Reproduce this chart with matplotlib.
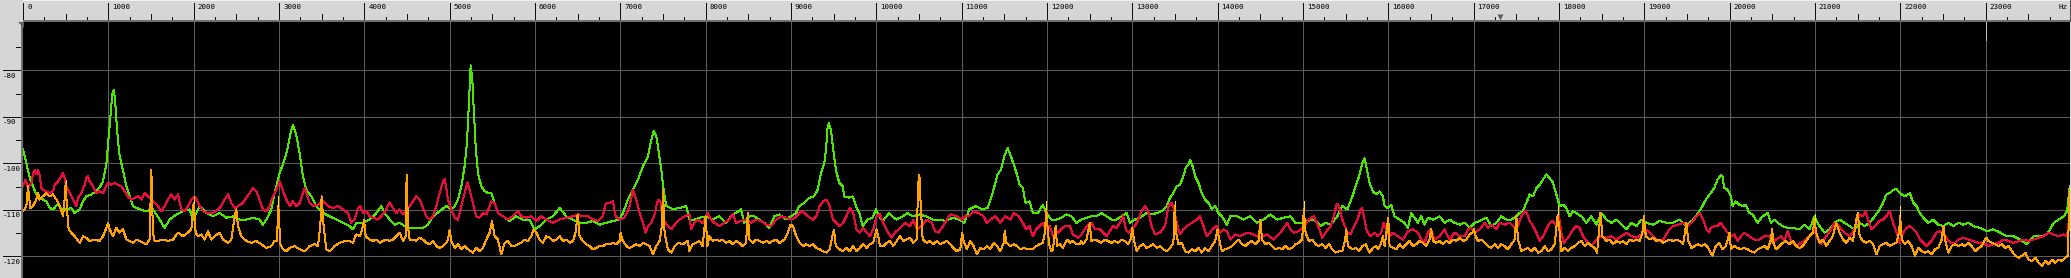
import matplotlib
matplotlib.use("Agg")
import matplotlib.pyplot as plt
import matplotlib.transforms as mtransforms

# --- data (Hz, dB) ---
green_hz = [0, 30, 60, 90, 117, 156, 200, 273, 312, 352, 410, 469, 508, 566, 605, 664, 703, 742, 801, 859,
            898, 937, 977, 1000, 1016, 1047, 1062, 1078, 1094, 1113, 1133, 1172, 1211, 1250, 1289, 1367, 1445,
            1523, 1602, 1660, 1719, 1797, 1875, 1953, 1992, 2070, 2148, 2227, 2305, 2383, 2461, 2539, 2617,
            2695, 2773, 2812, 2852, 2910, 2949, 3008, 3066, 3105, 3144, 3164, 3203, 3242, 3281, 3320, 3379,
            3437, 3516, 3594, 3672, 3750, 3828, 3867, 3906, 3984, 4062, 4141, 4199, 4238, 4297, 4355, 4414,
            4473, 4531, 4609, 4687, 4746, 4805, 4883, 4961, 5020, 5059, 5098, 5137, 5176, 5203, 5226, 5246,
            5266, 5281, 5305, 5332, 5371, 5410, 5449, 5488, 5527, 5566, 5625, 5703, 5781, 5859, 5937, 5996,
            6055, 6133, 6211, 6289, 6367, 6445, 6523, 6601, 6680, 6758, 6836, 6914, 6992, 7031, 7090, 7148,
            7207, 7266, 7324, 7363, 7391, 7422, 7453, 7480, 7508, 7539, 7617, 7695, 7773, 7809, 7867, 7926,
            8004, 8082, 8160, 8238, 8316, 8355, 8414, 8453, 8512, 8570, 8629, 8687, 8746, 8805, 8863, 8941,
            9000, 9059, 9098, 9156, 9215, 9273, 9312, 9352, 9391, 9410, 9430, 9445, 9469, 9496, 9527, 9566,
            9605, 9625, 9684, 9723, 9762, 9801, 9840, 9898, 9957, 9996, 10035, 10074, 10152, 10230, 10309,
            10367, 10426, 10504, 10582, 10660, 10738, 10816, 10894, 10973, 11031, 11090, 11168, 11246, 11305,
            11363, 11422, 11461, 11500, 11539, 11578, 11617, 11656, 11679, 11718, 11749, 11796, 11835, 11894,
            11953, 11992, 12051, 12110, 12169, 12227, 12286, 12345, 12404, 12463, 12521, 12580, 12639, 12698,
            12757, 12815, 12874, 12933, 12972, 13031, 13090, 13168, 13227, 13286, 13345, 13403, 13443, 13482,
            13521, 13560, 13599, 13631, 13658, 13678, 13709, 13737, 13776, 13815, 13854, 13894, 13933, 13972,
            14011, 14050, 14109, 14148, 14227, 14305, 14384, 14462, 14541, 14619, 14698, 14776, 14854, 14913,
            14992, 15050, 15129, 15207, 15266, 15325, 15403, 15462, 15521, 15580, 15619, 15658, 15698, 15722,
            15742, 15781, 15820, 15859, 15898, 15937, 15957, 15996, 16035, 16074, 16133, 16192, 16231, 16270,
            16309, 16348, 16387, 16426, 16465, 16524, 16602, 16661, 16719, 16778, 16837, 16895, 16954, 17013,
            17071, 17149, 17208, 17267, 17325, 17384, 17443, 17501, 17540, 17579, 17619, 17658, 17697, 17736,
            17775, 17814, 17853, 17892, 17931, 17970, 18009, 18048, 18087, 18126, 18165, 18204, 18263, 18322,
            18380, 18439, 18498, 18557, 18615, 18674, 18752, 18791, 18850, 18908, 18967, 19026, 19104, 19183,
            19261, 19339, 19417, 19495, 19574, 19632, 19682, 19722, 19780, 19820, 19859, 19898, 19918, 19937,
            19976, 20016, 20035, 20074, 20114, 20153, 20192, 20231, 20270, 20329, 20388, 20447, 20486, 20525,
            20564, 20623, 20682, 20741, 20819, 20878, 20937, 20996, 21054, 21113, 21172, 21231, 21290, 21348,
            21407, 21466, 21525, 21584, 21642, 21701, 21760, 21799, 21838, 21878, 21917, 21956, 21995, 22054,
            22113, 22152, 22192, 22231, 22270, 22329, 22388, 22446, 22505, 22564, 22623, 22682, 22740, 22799,
            22858, 22936, 23015, 23093, 23172, 23250, 23329, 23407, 23486, 23564, 23642, 23721, 23799, 23858,
            23917, 23956, 23987]
green_db = [-97.0, -99.2, -101.7, -103.8, -104.9, -106.7, -107.4, -108.2, -109.6, -109.9, -108.8, -110.3, -109.9,
            -109.6, -110.7, -109.9, -108.2, -107.1, -106.7, -106.0, -105.2, -103.9, -100.2, -95.0, -91.9, -85.0,
            -84.2, -86.0, -90.5, -95.0, -98.5, -101.5, -104.9, -107.1, -109.2, -109.9, -110.3, -109.9, -112.1,
            -113.9, -112.1, -111.0, -110.3, -109.9, -112.1, -109.2, -110.7, -111.4, -110.7, -111.7, -111.4,
            -112.1, -112.1, -111.7, -112.1, -113.2, -112.1, -109.9, -106.4, -102.1, -99.2, -96.4, -92.8, -91.7,
            -94.0, -97.8, -102.8, -105.7, -107.1, -109.2, -110.7, -111.4, -112.1, -112.8, -113.5, -114.2,
            -112.8, -112.8, -112.1, -110.7, -109.2, -110.7, -112.1, -113.2, -112.8, -113.5, -113.9, -113.9,
            -113.9, -113.2, -111.4, -110.3, -109.2, -109.9, -109.2, -107.8, -104.9, -100.6, -95.6, -87.1, -78.9,
            -82.1, -87.8, -96.4, -102.1, -104.9, -106.0, -106.4, -106.4, -108.5, -110.7, -111.4, -112.4, -111.4,
            -112.1, -112.1, -114.2, -113.5, -112.1, -111.4, -109.6, -111.4, -112.1, -112.8, -112.8, -112.4,
            -113.2, -112.8, -112.4, -112.1, -110.7, -107.8, -105.7, -103.5, -100.6, -98.5, -95.0, -93.0, -94.2,
            -97.8, -101.4, -105.7, -109.2, -109.9, -109.6, -109.2, -112.1, -112.1, -111.7, -111.4, -112.1,
            -111.4, -112.8, -111.0, -110.7, -109.9, -112.8, -111.4, -111.4, -112.1, -112.8, -113.9, -111.4,
            -111.0, -112.1, -111.4, -110.7, -109.2, -108.5, -107.4, -107.1, -105.7, -102.1, -99.9, -97.1, -92.1,
            -91.4, -92.8, -97.1, -101.4, -104.2, -104.9, -107.1, -107.4, -107.1, -109.2, -110.7, -113.5, -112.1,
            -111.7, -109.9, -111.4, -112.4, -110.7, -112.1, -111.4, -110.7, -111.4, -111.0, -111.4, -112.1,
            -112.1, -112.4, -111.7, -112.1, -112.8, -109.9, -109.2, -109.9, -109.6, -106.4, -102.4, -101.4,
            -98.5, -96.7, -98.5, -100.6, -102.8, -104.6, -105.3, -108.5, -108.2, -110.7, -110.7, -108.9, -110.7,
            -112.1, -112.1, -111.7, -111.0, -111.4, -112.8, -112.1, -111.7, -111.4, -111.4, -110.7, -111.4,
            -112.1, -112.1, -111.4, -110.7, -112.8, -112.1, -111.7, -110.7, -111.0, -110.7, -110.3, -109.2,
            -107.4, -106.4, -104.9, -104.6, -102.8, -100.7, -100.3, -99.2, -100.7, -102.8, -104.2, -106.4,
            -107.8, -108.5, -109.9, -109.2, -110.7, -111.4, -113.2, -111.4, -111.4, -112.1, -111.4, -112.8,
            -112.1, -111.0, -112.1, -111.7, -111.4, -112.8, -112.8, -112.4, -112.1, -113.5, -112.8, -113.2,
            -111.4, -109.2, -109.9, -107.1, -104.9, -102.8, -99.9, -98.9, -100.6, -104.2, -106.0, -106.7,
            -106.0, -107.1, -109.2, -109.6, -108.9, -111.4, -112.1, -112.8, -113.9, -110.7, -111.7, -112.8,
            -111.4, -113.2, -111.7, -112.1, -111.4, -112.8, -112.1, -112.8, -113.2, -112.8, -113.9, -112.8,
            -112.4, -111.7, -113.5, -112.8, -111.4, -112.1, -112.1, -111.4, -110.7, -110.3, -108.5, -106.7,
            -107.1, -105.3, -104.6, -103.5, -102.4, -103.2, -104.2, -106.7, -109.2, -108.9, -109.6, -111.4,
            -110.3, -110.7, -111.4, -112.8, -111.4, -113.2, -110.7, -112.1, -112.8, -112.1, -113.5, -114.2,
            -112.8, -113.5, -112.1, -112.8, -113.2, -112.4, -112.8, -112.8, -112.1, -113.5, -112.1, -110.7,
            -109.2, -107.8, -106.4, -105.3, -103.5, -102.6, -102.8, -105.3, -105.7, -107.1, -109.2, -108.2,
            -108.9, -109.2, -108.9, -110.7, -111.0, -112.8, -111.4, -110.7, -112.8, -112.1, -112.8, -113.5,
            -113.9, -113.9, -114.2, -113.2, -114.2, -111.4, -113.5, -114.9, -114.2, -112.8, -112.1, -112.8,
            -113.5, -114.2, -112.8, -113.5, -112.8, -111.4, -109.9, -108.5, -106.7, -106.4, -105.7, -105.5,
            -106.4, -107.1, -106.4, -108.5, -109.2, -110.7, -111.7, -112.8, -112.1, -113.2, -113.5, -112.8,
            -113.5, -112.8, -113.2, -112.8, -113.5, -113.9, -114.6, -114.2, -114.9, -115.7, -115.7, -116.4,
            -117.4, -115.7, -115.7, -115.3, -112.8, -112.1, -111.4, -110.3, -104.9]

red_hz = [0, 31, 59, 98, 117, 137, 156, 176, 195, 215, 234, 273, 312, 352, 371, 410, 449, 469, 488, 508, 547,
          586, 625, 645, 684, 723, 742, 762, 781, 820, 859, 898, 937, 977, 996, 1035, 1074, 1113, 1152, 1191,
          1230, 1270, 1309, 1348, 1387, 1426, 1465, 1504, 1543, 1582, 1621, 1660, 1699, 1738, 1777, 1816, 1855,
          1894, 1934, 1973, 2012, 2051, 2109, 2168, 2227, 2285, 2324, 2363, 2402, 2441, 2480, 2519, 2578, 2617,
          2656, 2695, 2734, 2773, 2812, 2852, 2891, 2930, 2969, 3008, 3047, 3086, 3125, 3164, 3203, 3242, 3281,
          3301, 3320, 3359, 3398, 3457, 3516, 3574, 3633, 3691, 3750, 3809, 3848, 3887, 3926, 3953, 3984, 4023,
          4062, 4102, 4160, 4199, 4258, 4297, 4336, 4375, 4414, 4453, 4492, 4531, 4570, 4609, 4648, 4687, 4726,
          4766, 4805, 4844, 4883, 4922, 4941, 4961, 4980, 5020, 5059, 5098, 5137, 5176, 5207, 5234, 5273, 5312,
          5351, 5390, 5430, 5469, 5488, 5527, 5566, 5625, 5683, 5742, 5801, 5840, 5898, 5957, 6015, 6074, 6133,
          6211, 6289, 6367, 6445, 6504, 6562, 6621, 6680, 6738, 6797, 6828, 6875, 6914, 6945, 6992, 7051, 7109,
          7148, 7187, 7226, 7266, 7297, 7324, 7363, 7402, 7441, 7469, 7500, 7558, 7597, 7637, 7695, 7754, 7812,
          7828, 7867, 7906, 7965, 8024, 8063, 8102, 8161, 8220, 8278, 8318, 8357, 8416, 8474, 8533, 8592, 8651,
          8710, 8768, 8827, 8886, 8945, 9004, 9043, 9082, 9121, 9160, 9200, 9258, 9298, 9337, 9376, 9415, 9454,
          9494, 9533, 9572, 9611, 9650, 9690, 9729, 9768, 9807, 9846, 9886, 9925, 9964, 10003, 10042, 10082,
          10140, 10180, 10219, 10278, 10336, 10395, 10434, 10474, 10532, 10591, 10650, 10689, 10728, 10768,
          10807, 10846, 10885, 10944, 11003, 11042, 11081, 11140, 11199, 11258, 11297, 11336, 11395, 11454,
          11512, 11571, 11610, 11669, 11718, 11757, 11796, 11835, 11875, 11914, 11953, 11992, 12031, 12071,
          12129, 12169, 12208, 12267, 12306, 12365, 12404, 12443, 12482, 12521, 12561, 12619, 12658, 12698,
          12737, 12776, 12815, 12855, 12894, 12925, 12953, 12992, 13031, 13070, 13109, 13149, 13188, 13227,
          13266, 13325, 13384, 13423, 13462, 13490, 13521, 13560, 13599, 13639, 13697, 13756, 13795, 13835,
          13874, 13913, 13952, 13991, 14031, 14070, 14109, 14148, 14207, 14266, 14344, 14423, 14501, 14580,
          14658, 14736, 14775, 14815, 14854, 14893, 14952, 15011, 15070, 15128, 15187, 15226, 15266, 15324,
          15364, 15395, 15422, 15462, 15520, 15560, 15599, 15638, 15677, 15695, 15722, 15750, 15789, 15840,
          15879, 15918, 15945, 15977, 16016, 16055, 16113, 16172, 16231, 16289, 16348, 16387, 16426, 16465,
          16504, 16543, 16602, 16661, 16719, 16778, 16837, 16895, 16934, 16973, 17013, 17071, 17130, 17169,
          17208, 17267, 17306, 17365, 17423, 17482, 17521, 17560, 17599, 17627, 17658, 17697, 17736, 17775,
          17814, 17853, 17892, 17931, 17970, 18002, 18029, 18057, 18107, 18166, 18205, 18244, 18283, 18323,
          18381, 18440, 18498, 18557, 18616, 18674, 18733, 18792, 18850, 18909, 18968, 19007, 19046, 19104,
          19163, 19222, 19280, 19339, 19398, 19456, 19515, 19574, 19613, 19652, 19691, 19730, 19761, 19780,
          19820, 19859, 19898, 19937, 19976, 20016, 20055, 20094, 20133, 20172, 20231, 20290, 20349, 20408,
          20466, 20506, 20545, 20604, 20643, 20682, 20721, 20780, 20839, 20898, 20956, 20996, 21035, 21074,
          21133, 21192, 21231, 21270, 21309, 21348, 21407, 21446, 21486, 21525, 21564, 21595, 21623, 21662,
          21701, 21760, 21799, 21838, 21878, 21917, 21956, 21995, 22035, 22074, 22113, 22152, 22192, 22231,
          22270, 22309, 22368, 22427, 22466, 22505, 22564, 22623, 22682, 22741, 22799, 22858, 22917, 22976,
          23035, 23093, 23152, 23211, 23270, 23329, 23388, 23446, 23505, 23564, 23623, 23682, 23740, 23799,
          23858, 23917, 23956, 23987]
red_db = [-104.9, -103.5, -105.3, -104.2, -102.4, -101.4, -102.4, -101.4, -102.4, -105.3, -105.7, -106.0, -106.4,
          -106.0, -104.6, -103.9, -102.8, -102.1, -103.2, -104.9, -106.4, -107.8, -109.2, -107.4, -106.4, -104.6,
          -103.2, -102.8, -103.9, -104.9, -106.4, -106.0, -106.4, -104.9, -104.2, -104.6, -104.2, -104.6, -104.9,
          -106.0, -107.1, -107.8, -107.4, -107.1, -107.8, -106.4, -107.1, -107.8, -108.5, -109.2, -110.3, -109.2,
          -107.8, -106.7, -107.8, -106.7, -109.9, -110.3, -109.2, -107.8, -107.1, -108.5, -110.3, -110.7, -110.7,
          -109.9, -109.2, -107.8, -106.7, -108.5, -109.6, -109.2, -108.5, -107.4, -106.4, -105.3, -106.0, -107.8,
          -109.9, -110.3, -109.2, -107.1, -105.7, -103.9, -106.0, -107.8, -109.2, -108.2, -109.2, -108.5, -106.4,
          -105.3, -106.4, -108.5, -109.2, -108.9, -108.2, -109.2, -109.6, -109.2, -109.9, -110.7, -112.8, -112.1,
          -109.6, -109.2, -110.7, -110.3, -111.4, -111.7, -112.1, -111.4, -109.9, -108.4, -109.6, -110.7, -109.9,
          -111.0, -110.3, -109.2, -108.2, -107.1, -107.8, -109.6, -111.4, -112.1, -111.4, -109.2, -106.4, -103.9,
          -103.4, -105.3, -107.8, -109.9, -111.7, -112.1, -109.2, -106.4, -104.1, -105.7, -108.5, -111.4, -111.7,
          -110.7, -111.0, -109.2, -108.2, -108.5, -110.7, -111.4, -112.1, -111.4, -110.3, -111.4, -111.7, -111.4,
          -112.4, -111.4, -112.1, -112.8, -112.1, -111.7, -111.4, -111.0, -111.4, -111.4, -112.1, -112.4, -111.4,
          -108.7, -108.5, -108.2, -111.4, -112.1, -111.7, -109.2, -105.7, -107.8, -110.7, -112.8, -114.9, -113.5,
          -112.8, -111.0, -107.8, -108.2, -112.1, -113.5, -114.2, -113.2, -112.1, -111.4, -111.0, -114.2, -112.8,
          -112.1, -112.8, -110.7, -112.1, -112.8, -113.5, -112.8, -112.1, -110.9, -112.8, -112.4, -112.1, -112.8,
          -112.1, -112.4, -113.2, -113.5, -112.1, -111.4, -111.7, -112.1, -111.7, -111.0, -110.3, -110.7, -111.4,
          -112.1, -111.4, -109.2, -108.2, -107.8, -109.2, -112.1, -112.8, -113.5, -112.8, -111.4, -109.6, -110.7,
          -114.2, -114.9, -113.9, -114.9, -115.7, -114.2, -111.4, -111.0, -112.8, -114.9, -116.0, -114.9, -113.9,
          -112.8, -113.5, -112.1, -114.2, -113.5, -112.1, -112.8, -114.6, -114.9, -113.9, -112.8, -111.4, -111.0,
          -111.4, -112.1, -111.4, -111.4, -110.3, -110.7, -111.4, -112.8, -112.1, -111.4, -112.8, -111.4, -112.1,
          -110.7, -111.4, -112.8, -114.2, -113.5, -115.7, -114.2, -113.5, -112.8, -114.2, -113.5, -115.7, -114.9,
          -114.2, -113.5, -113.5, -115.3, -116.0, -115.3, -114.2, -113.2, -112.8, -114.2, -114.2, -114.9, -115.7,
          -114.6, -113.5, -113.9, -112.8, -111.4, -114.2, -114.9, -114.2, -113.5, -112.1, -110.3, -109.2, -110.3,
          -113.5, -115.3, -114.9, -113.5, -109.2, -108.5, -109.9, -112.8, -115.3, -114.2, -113.5, -112.8, -112.1,
          -111.4, -113.5, -115.7, -114.9, -113.9, -113.5, -114.9, -114.2, -114.6, -116.4, -115.3, -115.7, -114.9,
          -115.3, -116.0, -115.3, -116.4, -114.9, -113.9, -112.8, -114.2, -114.9, -114.6, -113.5, -112.1, -111.4,
          -113.9, -116.0, -114.9, -113.5, -111.4, -108.7, -109.2, -112.1, -114.9, -115.3, -113.5, -112.1, -109.9,
          -109.6, -112.1, -114.6, -115.7, -114.9, -115.7, -114.9, -112.8, -114.2, -115.7, -114.9, -115.7, -116.4,
          -114.6, -114.2, -114.9, -116.4, -117.1, -114.9, -114.2, -116.4, -115.7, -114.2, -116.4, -114.9, -115.7,
          -115.7, -114.2, -113.9, -114.9, -114.2, -112.8, -113.9, -113.2, -114.2, -112.8, -113.2, -112.8, -113.9,
          -113.5, -111.4, -110.3, -110.7, -112.4, -113.5, -114.9, -116.7, -115.7, -114.2, -112.8, -112.4, -113.5,
          -111.4, -114.9, -117.1, -116.0, -114.2, -113.5, -113.9, -115.7, -116.7, -117.8, -116.4, -115.7, -116.0,
          -115.7, -116.4, -115.7, -114.9, -115.7, -116.0, -115.3, -114.2, -114.6, -115.7, -116.7, -116.4, -114.6,
          -113.5, -113.2, -112.8, -113.5, -112.4, -111.4, -110.7, -112.1, -114.2, -114.9, -113.9, -113.5, -113.5,
          -112.8, -113.9, -114.9, -115.7, -115.3, -116.7, -115.7, -114.9, -115.7, -116.4, -116.4, -115.7, -115.7,
          -117.1, -116.4, -115.7, -116.7, -114.6, -116.7, -117.8, -117.1, -116.4, -115.3, -114.2, -116.4, -117.4,
          -115.7, -114.2, -112.8, -113.2, -114.2, -114.9, -115.7, -114.9, -112.8, -111.0, -111.4, -110.3, -112.1,
          -114.2, -113.5, -112.4, -112.1, -111.4, -110.3, -112.8, -114.9, -117.1, -114.9, -113.9, -113.5, -114.2,
          -114.9, -116.4, -117.1, -117.8, -116.7, -114.9, -114.6, -114.9, -116.7, -117.4, -116.4, -116.0, -116.4,
          -116.7, -117.1, -117.1, -117.8, -117.4, -117.1, -116.4, -116.7, -117.1, -116.7, -116.4, -116.7, -116.4,
          -116.0, -115.7, -114.9, -115.3, -115.7, -115.3, -115.7, -110.7]

orange_hz = [0, 20, 39, 59, 70, 86, 117, 156, 176, 195, 234, 273, 312, 352, 391, 430, 469, 488, 500, 516, 535,
             566, 605, 664, 703, 742, 781, 840, 898, 937, 977, 996, 1016, 1055, 1094, 1133, 1172, 1211, 1250,
             1289, 1328, 1367, 1406, 1445, 1484, 1504, 1523, 1543, 1582, 1641, 1699, 1758, 1816, 1875, 1934,
             1973, 2000, 2023, 2051, 2090, 2129, 2168, 2207, 2246, 2305, 2344, 2402, 2441, 2480, 2500, 2519,
             2558, 2617, 2676, 2734, 2793, 2852, 2910, 2949, 2976, 2992, 3016, 3047, 3086, 3125, 3183, 3242,
             3301, 3359, 3418, 3457, 3484, 3500, 3523, 3555, 3594, 3652, 3711, 3769, 3828, 3867, 3887, 3906,
             3945, 3965, 3984, 3996, 4016, 4062, 4102, 4141, 4180, 4219, 4258, 4297, 4336, 4375, 4414, 4453,
             4484, 4496, 4512, 4531, 4570, 4609, 4648, 4687, 4726, 4766, 4805, 4844, 4883, 4922, 4961, 4980,
             5000, 5020, 5059, 5098, 5137, 5176, 5215, 5273, 5312, 5351, 5390, 5430, 5469, 5496, 5527, 5566,
             5605, 5644, 5683, 5723, 5762, 5801, 5840, 5879, 5918, 5957, 5984, 6016, 6055, 6094, 6133, 6172,
             6211, 6250, 6289, 6328, 6367, 6406, 6445, 6476, 6500, 6523, 6562, 6601, 6641, 6680, 6719, 6758,
             6797, 6836, 6875, 6914, 6953, 6992, 7004, 7023, 7070, 7109, 7148, 7187, 7226, 7266, 7305, 7344,
             7383, 7422, 7461, 7488, 7500, 7519, 7558, 7597, 7637, 7676, 7734, 7793, 7808, 7847, 7886, 7926,
             7965, 7988, 8000, 8020, 8043, 8082, 8122, 8161, 8200, 8239, 8278, 8318, 8357, 8396, 8435, 8474,
             8494, 8514, 8553, 8592, 8631, 8670, 8710, 8749, 8788, 8827, 8866, 8925, 8964, 8996, 9023, 9062,
             9102, 9141, 9180, 9219, 9258, 9298, 9337, 9376, 9415, 9454, 9494, 9505, 9525, 9572, 9611, 9650,
             9690, 9729, 9768, 9807, 9846, 9886, 9925, 9964, 10003, 10023, 10042, 10082, 10121, 10160, 10200,
             10239, 10278, 10317, 10356, 10396, 10435, 10474, 10490, 10505, 10521, 10544, 10591, 10630, 10670,
             10709, 10748, 10787, 10826, 10866, 10905, 10944, 10984, 11007, 11023, 11062, 11101, 11140, 11180,
             11219, 11258, 11297, 11336, 11376, 11415, 11454, 11493, 11505, 11524, 11572, 11611, 11650, 11690,
             11729, 11787, 11835, 11875, 11914, 11953, 11976, 11992, 12012, 12031, 12051, 12071, 12090, 12102,
             12118, 12149, 12188, 12227, 12247, 12267, 12306, 12345, 12384, 12404, 12423, 12463, 12502, 12521,
             12561, 12600, 12639, 12678, 12717, 12757, 12796, 12835, 12874, 12913, 12953, 12980, 13000, 13019,
             13051, 13090, 13129, 13168, 13207, 13247, 13286, 13325, 13364, 13403, 13443, 13482, 13498, 13513,
             13541, 13580, 13619, 13658, 13697, 13737, 13776, 13815, 13854, 13894, 13933, 13972, 13999, 14023,
             14050, 14089, 14129, 14168, 14207, 14246, 14286, 14325, 14364, 14403, 14442, 14482, 14501, 14521,
             14560, 14599, 14638, 14678, 14717, 14756, 14795, 14834, 14874, 14913, 14952, 14991, 15011, 15031,
             15070, 15109, 15148, 15187, 15226, 15266, 15305, 15344, 15383, 15423, 15462, 15493, 15509, 15528,
             15579, 15618, 15658, 15697, 15736, 15781, 15820, 15859, 15879, 15918, 15937, 15957, 15984, 16000,
             16016, 16055, 16094, 16133, 16172, 16211, 16250, 16289, 16328, 16368, 16407, 16446, 16485, 16504,
             16524, 16563, 16602, 16641, 16680, 16719, 16759, 16798, 16837, 16876, 16915, 16954, 16985, 17005,
             17024, 17052, 17091, 17130, 17169, 17208, 17247, 17286, 17325, 17365, 17404, 17443, 17482, 17501,
             17521, 17560, 17599, 17638, 17677, 17716, 17756, 17795, 17834, 17873, 17912, 17951, 17986, 18010,
             18029, 18068, 18107, 18146, 18185, 18224, 18264, 18303, 18342, 18381, 18420, 18448, 18471, 18487,
             18510, 18557, 18596, 18635, 18674, 18713, 18753, 18792, 18831, 18870, 18909, 18948, 18979, 18995,
             19019, 19065, 19105, 19144, 19183, 19222, 19261, 19300, 19339, 19378, 19417, 19456, 19495, 19515,
             19554, 19593, 19632, 19671, 19710, 19750, 19800, 19839, 19878, 19918, 19957, 19988, 20000, 20016,
             20055, 20094, 20133, 20172, 20212, 20251, 20290, 20329, 20368, 20408, 20447, 20486, 20498, 20514,
             20545, 20584, 20623, 20662, 20702, 20741, 20780, 20819, 20858, 20898, 20937, 20976, 20996, 21015,
             21054, 21094, 21133, 21172, 21211, 21250, 21290, 21329, 21368, 21407, 21446, 21486, 21505, 21525,
             21564, 21603, 21642, 21682, 21721, 21760, 21799, 21838, 21878, 21917, 21956, 21987, 21999, 22019,
             22054, 22094, 22133, 22172, 22211, 22251, 22290, 22329, 22368, 22407, 22446, 22486, 22505, 22525,
             22564, 22603, 22642, 22682, 22721, 22760, 22799, 22838, 22878, 22917, 22956, 22995, 23011, 23034,
             23074, 23113, 23152, 23191, 23231, 23270, 23309, 23348, 23387, 23427, 23466, 23505, 23544, 23583,
             23623, 23662, 23701, 23740, 23780, 23819, 23858, 23897, 23936, 23964, 23987]
orange_db = [-110.3, -109.9, -109.2, -104.9, -107.1, -109.6, -109.2, -107.8, -106.4, -107.8, -107.1, -106.4,
             -107.1, -106.7, -107.8, -109.2, -111.4, -107.8, -104.2, -109.9, -114.2, -114.9, -115.7, -117.1,
             -115.7, -116.0, -116.7, -116.4, -116.7, -115.7, -113.9, -112.8, -114.2, -115.7, -113.9, -114.9,
             -114.2, -116.4, -116.7, -117.1, -116.4, -116.7, -117.1, -117.4, -116.4, -101.4, -114.9, -116.7,
             -116.7, -116.4, -116.7, -116.4, -114.9, -115.7, -114.9, -114.2, -108.5, -114.9, -115.7, -115.3,
             -116.4, -114.6, -116.4, -115.7, -114.9, -116.4, -117.1, -116.4, -111.4, -109.9, -113.5, -115.7,
             -116.7, -117.1, -116.7, -117.4, -118.2, -117.8, -116.7, -116.7, -109.2, -117.4, -118.5, -118.9,
             -118.2, -117.8, -118.5, -118.9, -117.8, -117.4, -117.8, -113.5, -107.1, -113.5, -118.5, -118.9,
             -117.8, -117.1, -116.7, -116.7, -117.1, -116.0, -115.3, -115.7, -114.9, -113.5, -112.1, -115.7,
             -116.4, -116.7, -116.4, -117.1, -116.7, -116.4, -116.7, -116.4, -115.7, -114.9, -116.7, -115.7,
             -102.4, -113.5, -116.4, -116.4, -116.7, -116.0, -116.4, -117.1, -117.4, -116.7, -117.8, -118.2,
             -117.8, -117.1, -116.4, -114.4, -116.7, -118.2, -117.4, -118.5, -117.8, -118.5, -119.2, -118.2,
             -118.9, -118.2, -116.4, -114.9, -112.4, -115.7, -116.4, -119.6, -117.1, -116.7, -117.8, -117.8,
             -117.4, -117.1, -116.4, -116.7, -115.7, -114.2, -114.9, -116.4, -117.1, -115.7, -116.0, -116.7,
             -116.4, -115.7, -116.7, -116.4, -117.1, -116.7, -114.9, -111.0, -115.7, -116.7, -117.4, -117.8,
             -118.5, -118.2, -117.8, -117.8, -117.4, -117.4, -117.1, -117.4, -116.7, -114.9, -116.4, -117.8,
             -118.2, -117.8, -117.4, -117.8, -117.1, -117.4, -117.8, -119.6, -117.8, -116.7, -113.5, -105.7,
             -114.9, -118.5, -119.2, -117.8, -117.1, -117.4, -116.7, -118.9, -117.4, -117.1, -116.7, -117.8,
             -113.5, -111.4, -117.8, -115.7, -116.7, -116.4, -116.7, -116.4, -117.1, -116.7, -117.4, -116.7,
             -117.1, -117.8, -117.1, -110.7, -116.4, -117.1, -116.4, -116.7, -117.1, -116.7, -117.1, -116.7,
             -116.4, -117.1, -116.4, -114.9, -113.2, -113.5, -115.7, -117.1, -117.8, -117.4, -117.8, -117.4,
             -118.2, -118.5, -118.9, -119.2, -118.5, -114.9, -114.4, -117.8, -118.5, -118.9, -118.2, -118.9,
             -117.8, -118.9, -118.2, -117.4, -118.2, -117.4, -117.1, -114.2, -115.7, -117.8, -117.8, -117.1,
             -116.7, -117.8, -116.7, -115.7, -116.7, -116.4, -116.0, -117.1, -116.4, -104.6, -102.4, -109.2,
             -116.4, -117.1, -116.7, -117.4, -116.7, -117.4, -117.1, -116.7, -117.4, -118.2, -118.9, -118.5,
             -114.9, -116.7, -118.5, -116.7, -117.8, -119.6, -118.2, -118.5, -117.8, -118.5, -117.1, -117.8,
             -118.9, -117.1, -114.6, -117.1, -117.8, -117.4, -117.8, -118.5, -118.2, -118.5, -118.5, -117.8,
             -117.4, -117.1, -114.9, -109.9, -114.9, -117.8, -118.9, -118.5, -115.3, -113.5, -117.8, -117.4,
             -118.2, -116.7, -116.4, -117.1, -116.7, -117.4, -117.4, -116.7, -117.4, -116.4, -112.8, -116.7,
             -116.4, -116.7, -117.1, -116.4, -116.7, -117.1, -116.7, -117.1, -116.4, -116.7, -117.4, -116.4,
             -113.9, -116.4, -118.9, -117.8, -117.4, -118.2, -117.8, -117.4, -118.2, -117.8, -118.5, -118.9,
             -118.2, -117.1, -109.2, -114.9, -117.4, -117.1, -118.9, -119.2, -118.5, -118.9, -118.2, -119.2,
             -118.2, -118.9, -117.8, -116.7, -114.2, -116.7, -118.9, -118.5, -118.2, -117.8, -117.1, -116.4,
             -117.4, -117.8, -117.1, -116.7, -117.4, -116.7, -112.1, -116.4, -117.4, -117.1, -117.8, -118.5,
             -118.2, -118.5, -117.8, -118.5, -118.2, -117.4, -117.1, -116.4, -109.9, -114.9, -116.7, -116.4,
             -117.4, -117.8, -117.4, -118.2, -117.4, -118.5, -119.2, -118.9, -118.9, -116.7, -114.2, -117.8,
             -118.5, -118.2, -118.9, -117.8, -117.4, -119.2, -118.2, -117.8, -118.5, -117.1, -115.7, -117.8,
             -114.2, -111.7, -117.8, -118.2, -118.5, -117.4, -118.2, -117.4, -116.7, -117.8, -117.4, -116.7,
             -117.1, -117.8, -116.4, -114.2, -116.7, -117.1, -116.7, -117.4, -116.7, -117.1, -116.4, -116.7,
             -116.0, -116.7, -116.4, -115.3, -114.9, -114.2, -115.7, -116.7, -116.4, -117.1, -117.8, -118.2,
             -117.4, -118.2, -117.4, -117.8, -118.5, -117.4, -116.4, -111.4, -116.4, -118.9, -118.5, -118.2,
             -118.9, -118.2, -119.2, -118.9, -117.8, -118.9, -118.5, -117.4, -111.0, -114.9, -118.9, -118.2,
             -118.9, -118.2, -117.8, -117.1, -116.7, -117.8, -117.1, -117.8, -118.2, -119.2, -114.2, -110.7,
             -115.7, -116.7, -116.4, -117.4, -116.7, -117.1, -116.7, -117.4, -116.4, -116.7, -116.4, -116.7,
             -114.9, -111.4, -115.7, -116.4, -116.0, -116.7, -116.4, -117.1, -116.7, -116.4, -116.7, -116.4,
             -116.7, -117.4, -112.8, -116.7, -118.2, -117.8, -117.4, -117.8, -117.4, -118.2, -119.9, -117.8,
             -117.1, -118.5, -117.8, -115.7, -114.9, -118.5, -117.8, -118.2, -118.5, -118.2, -118.5, -118.9,
             -119.2, -118.5, -118.2, -117.8, -118.5, -116.4, -114.2, -117.1, -118.5, -117.8, -117.1, -116.7,
             -117.4, -116.7, -117.8, -118.2, -117.8, -116.7, -115.7, -114.9, -112.1, -114.9, -117.1, -116.4,
             -117.8, -116.7, -115.7, -112.8, -114.9, -116.4, -117.1, -116.0, -116.7, -112.1, -110.7, -115.7,
             -116.7, -117.1, -116.7, -117.4, -119.6, -117.8, -117.4, -117.1, -117.8, -117.4, -117.1, -114.9,
             -111.4, -116.4, -117.4, -116.7, -117.8, -119.9, -118.2, -118.9, -119.2, -118.9, -119.6, -118.5,
             -118.2, -116.4, -113.5, -116.4, -119.2, -117.8, -117.4, -117.8, -117.4, -117.8, -117.1, -117.8,
             -118.9, -118.2, -117.8, -116.4, -116.0, -116.7, -117.1, -117.4, -117.8, -117.4, -118.2, -117.8,
             -118.9, -119.9, -120.3, -119.9, -119.2, -120.7, -121.0, -120.3, -121.4, -122.1, -121.0, -121.7,
             -120.7, -121.4, -120.7, -121.0, -120.3, -119.9, -104.9]

# yellow tips above some of the orange spikes
tip_hz = [500, 2000, 2992, 11992, 13498, 15011, 17986, 20996, 21999]
tip_low = [-104.2, -108.5, -109.2, -109.9, -109.2, -109.9, -111.0, -112.1, -111.4]
tip_high = [-103.6, -107.1, -107.1, -108.2, -108.2, -108.2, -109.2, -111.0, -109.2]

grid_hz = list(range(1000, 24000, 1000))
grid_db = [-80, -90, -100, -110, -120]
x_labels = [str(f) for f in range(0, 24000, 1000)]
minor_db = [-75, -85, -95, -105, -115]
cursor_hz = 17310

RULER = "#d6d6d6"
GRID = "#5c5c5c"
W, H = 2071, 278
LEFT, TOP = 23, 22
RIGHT = 2070
XMAX = 23990
YMIN, YMAX = -124.67, -69.6
PX = 0.72  # one pixel in points

plt.rcParams['font.family'] = ['DejaVu Sans Mono', 'DejaVu Sans']
fig = plt.figure(figsize=(W / 100, H / 100), dpi=100, facecolor=RULER)

# main spectrum area
ax = fig.add_axes([LEFT / W, 0, (RIGHT - LEFT) / W, (H - TOP) / H])
ax.set_facecolor("black")
ax.set_xlim(0, XMAX)
ax.set_ylim(YMIN, YMAX)
for s in ax.spines.values():
    s.set_visible(False)
ax.set_xticks([])
ax.set_yticks([])
for f in grid_hz:
    ax.axvline(f, color=GRID, lw=PX, antialiased=False, zorder=1)
for d in grid_db:
    ax.axhline(d, color=GRID, lw=PX, antialiased=False, zorder=1)
ax.vlines(23000, -73.5, YMAX, color="#b8b8b8", lw=PX, antialiased=False, zorder=2)

ax.plot(green_hz, green_db, color="#4ce600", lw=PX, antialiased=False, zorder=3)
ax.plot(red_hz, red_db, color="#ee0a3c", lw=PX, antialiased=False, zorder=4)
ax.plot(orange_hz, orange_db, color="#ffa200", lw=PX, antialiased=False, zorder=5)
ax.vlines(tip_hz, tip_low, tip_high, color="#ffe600", lw=PX, antialiased=False, zorder=6)

# top ruler (y in pixels above the plot)
axt = fig.add_axes([LEFT / W, (H - TOP) / H, (W - LEFT) / W, TOP / H])
axt.set_facecolor(RULER)
axt.set_xlim(0, XMAX * (W - LEFT) / (RIGHT - LEFT))
axt.set_ylim(0, TOP)
axt.set_xticks([])
axt.set_yticks([])
for s in axt.spines.values():
    s.set_visible(False)
label_tf = mtransforms.offset_copy(axt.transData, fig=fig, x=4, y=0, units='dots')
for i, lab in enumerate(x_labels):
    f = i * 1000
    axt.vlines(f, 0, 19, color="#111111", lw=PX, antialiased=False)
    axt.vlines(f + 500, 0, 8, color="#111111", lw=PX, antialiased=False)
    axt.vlines([f + 250, f + 750], 0, 5, color="#111111", lw=PX, antialiased=False)
    axt.text(f, 18.3, lab, transform=label_tf, fontsize=5.4, ha="left", va="top", color="black")
axt.text(0.9985, 18.3 / TOP, "Hz", transform=axt.transAxes, fontsize=5.4, ha="right", va="top")
axt.axhline(0.6, color="#707070", lw=1.2, antialiased=False)
axt.axhline(TOP - 0.4, color="#f2f2f2", lw=PX, antialiased=False)
axt.axvline(XMAX, color="#505050", lw=PX, antialiased=False)
axt.plot([cursor_hz], [5.5], marker="v", ms=4.5, color="#606060", mec="none")

# left ruler (x in pixels)
axl = fig.add_axes([0, 0, LEFT / W, (H - TOP) / H])
axl.set_facecolor(RULER)
axl.set_xlim(0, LEFT)
axl.set_ylim(YMIN, YMAX)
axl.set_xticks([])
axl.set_yticks([])
for s in axl.spines.values():
    s.set_visible(False)
ylab_tf = mtransforms.offset_copy(axl.transData, fig=fig, x=0, y=-2.5, units='dots')
for d in grid_db:
    axl.hlines(d, 3, LEFT, color="#111111", lw=PX, antialiased=False)
    axl.text(2.5, d, str(d), transform=ylab_tf, fontsize=5.4, ha="left", va="top")
axl.hlines(minor_db, 16, LEFT, color="#111111", lw=PX, antialiased=False)
axl.axvline(LEFT - 1.0, color="#707070", lw=1.2, antialiased=False)
axl.plot([19.5], [YMAX - 0.45], marker=[(-1, 1), (1, 1), (1, -1)], ms=6, color="#606060", mec="none")

fig.savefig("out.png", dpi=100, facecolor=RULER)
